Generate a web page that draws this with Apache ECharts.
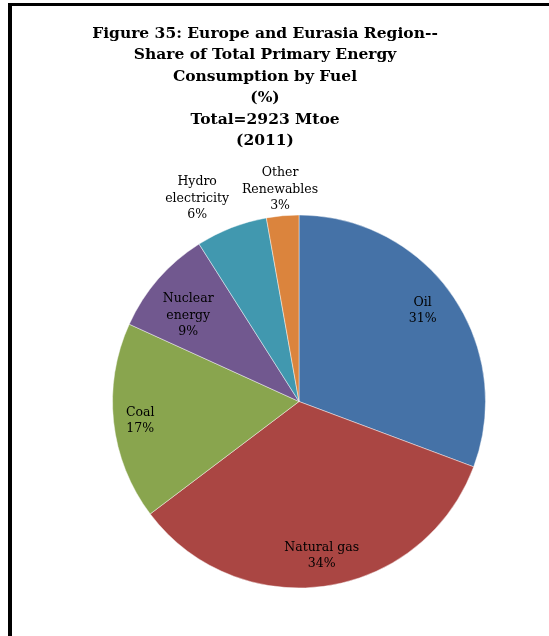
<!DOCTYPE html>
<html>
<head>
<meta charset="utf-8">
<script src="https://cdn.jsdelivr.net/npm/echarts@6/dist/echarts.min.js"></script>
<style>
html,body{margin:0;padding:0;background:#fff;}
#chart{position:absolute;left:0;top:0;width:549px;height:636px;}
#frame{position:absolute;left:8px;top:3px;width:560px;height:660px;border-left:4px solid #000;border-top:3px solid #000;pointer-events:none;}
</style>
</head>
<body>
<div id="chart"></div>
<div id="frame"></div>
<script>
// Data
const fuels = ['Oil', 'Natural gas', 'Coal', 'Nuclear energy', 'Hydro electricity', 'Other Renewables'];
const labelText = ['Oil', 'Natural gas', 'Coal', 'Nuclear\nenergy', 'Hydro\nelectricity', 'Other\nRenewables'];
const shares = [30.7, 34.0, 17.1, 9.2, 6.2, 2.8];
const colors = ['#4572A7', '#AA4643', '#89A54E', '#71588F', '#4198AF', '#DB843D'];
const titleLines = [
  'Figure 35: Europe and Eurasia Region--',
  'Share of Total Primary Energy',
  'Consumption by Fuel',
  '(%)',
  'Total=2923 Mtoe',
  '(2011)'
];

const FONT = '"DejaVu Serif", "Liberation Serif", serif';
const CX = 299, CY = 401.5, R = 186.5;

const total = shares.reduce((a, b) => a + b, 0);
const pct = i => Math.round(shares[i] / total * 100);

const baseData = fuels.map((f, i) => ({ name: f, value: shares[i], itemStyle: { color: colors[i] } }));

// label nudges (style only)
const labelNudge = [[-6, -1], [0, -2], [-2, 2], [-3, 8], [-19, 10], [0, 3]];

// Transparent overlay rings: each places "inside" labels at the ring's mid radius
function labelRing(r0, r1, showIdx) {
  return {
    type: 'pie', silent: true, animation: false,
    center: [CX, CY], radius: [r0, r1], startAngle: 90, clockwise: true,
    avoidLabelOverlap: false,
    itemStyle: { color: 'rgba(0,0,0,0)', borderWidth: 0 },
    emphasis: { disabled: true },
    labelLine: { show: false },
    label: {
      show: true, position: 'inside', color: '#000',
      fontFamily: FONT, fontSize: 12.5, lineHeight: 16.5, align: 'center'
    },
    data: fuels.map((f, i) => ({
      name: f, value: shares[i],
      label: showIdx.indexOf(i) >= 0
        ? { formatter: labelText[i] + '\n' + pct(i) + '%', offset: labelNudge[i] }
        : { show: false }
    }))
  };
}

const chart = echarts.init(document.getElementById('chart'), null, { renderer: 'canvas' });
chart.setOption({
  backgroundColor: '#fff',
  animation: false,
  title: {
    text: titleLines.join('\n'),
    left: 260, top: 18, textAlign: 'center',
    textStyle: { fontFamily: FONT, fontWeight: 'bold', fontSize: 15.5, lineHeight: 21.5, color: '#000' }
  },
  series: [
    {
      type: 'pie', animation: false,
      center: [CX, CY], radius: [0, R], startAngle: 90, clockwise: true,
      label: { show: false }, labelLine: { show: false },
      emphasis: { disabled: true },
      itemStyle: { borderColor: 'rgba(255,255,255,0.55)', borderWidth: 0.8 },
      data: baseData
    },
    labelRing(R * 0.66, R, [0, 1, 2]),
    labelRing(R * 0.5, R, [3]),
    labelRing(R, R * 1.42, [4]),
    labelRing(R, R * 1.28, [5])
  ]
});
</script>
</body>
</html>
